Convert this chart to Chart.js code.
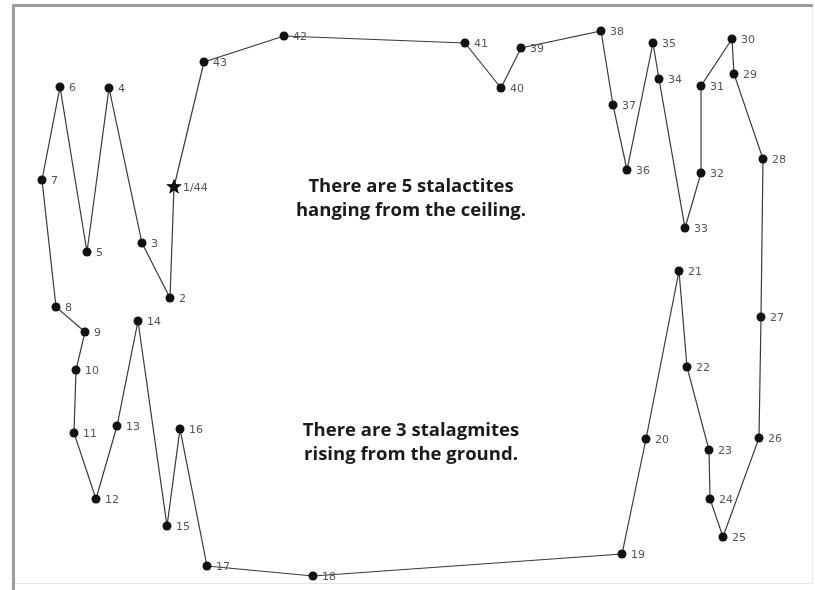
<!DOCTYPE html>
<html>
<head>
<meta charset="utf-8">
<script src="https://cdn.jsdelivr.net/npm/chart.js@4/dist/chart.umd.min.js"></script>
<style>
  html, body { margin: 0; padding: 0; background: #fff; overflow: hidden; }
  #wrap { width: 815px; height: 590px; position: relative; }
  canvas { display: block; }
</style>
</head>
<body>
<div id="wrap"><canvas id="dots" width="815" height="590"></canvas></div>
<script>
// Dot-to-dot puzzle — the cave outline, dot 1 (star) back to 44 = 1

const dotLabels = ["1/44", "2", "3", "4", "5", "6", "7", "8", "9", "10", "11", "12", "13", "14", "15", "16",
  "17", "18", "19", "20", "21", "22", "23", "24", "25", "26", "27", "28", "29", "30", "31", "32",
  "33", "34", "35", "36", "37", "38", "39", "40", "41", "42", "43", ""];
const dotX = [174, 170, 142, 109, 87, 60, 42, 56, 85, 76, 74, 96, 117, 138, 167, 180,
  207, 313, 622, 646, 679, 687, 709, 710, 723, 759, 761, 763, 734, 732, 701, 701,
  685, 659, 653, 627, 613, 601, 521, 501, 465, 284, 204, 174];
const dotY = [187, 298, 243, 88, 252, 87, 180, 307, 332, 370, 433, 499, 426, 321, 526, 429,
  566, 576, 554, 439, 271, 367, 450, 499, 537, 438, 317, 159, 74, 39, 86, 173,
  228, 79, 43, 170, 105, 31, 48, 88, 43, 36, 62, 187];

const notes = [
  ["There are 5 stalactites", "hanging from the ceiling."],
  ["There are 3 stalagmites", "rising from the ground."],
];

// ── Star marker for the start dot ─────────────────────────────────────────

function starImage(r) {
  const c = document.createElement("canvas");
  c.width = c.height = r * 2 + 2;
  const g = c.getContext("2d");
  g.fillStyle = "#111";
  g.beginPath();
  for (let i = 0; i < 10; i++) {
    const rr = i % 2 === 0 ? r : r * 0.42;
    const a = -Math.PI / 2 + (i * Math.PI) / 5;
    const px = r + 1 + rr * Math.cos(a);
    const py = r + 1 + rr * Math.sin(a);
    i === 0 ? g.moveTo(px, py) : g.lineTo(px, py);
  }
  g.closePath();
  g.fill();
  return c;
}
const star = starImage(8);

// ── Frame, dot numbers and the two notes ─────────────────────────────────

const decor = {
  id: "decor",
  beforeDraw(chart) {
    const { ctx } = chart;
    ctx.save();
    ctx.fillStyle = "#fff";
    ctx.fillRect(0, 0, chart.width, chart.height);
    // faint right and bottom edges
    ctx.strokeStyle = "#e6e6e6";
    ctx.lineWidth = 1;
    ctx.beginPath();
    ctx.moveTo(812.5, 5);
    ctx.lineTo(812.5, 584);
    ctx.moveTo(14, 583.5);
    ctx.lineTo(812, 583.5);
    ctx.stroke();
    // strong top and left edges
    ctx.strokeStyle = "#9c9c9c";
    ctx.lineWidth = 3;
    ctx.beginPath();
    ctx.moveTo(12, 5.5);
    ctx.lineTo(813, 5.5);
    ctx.moveTo(13.5, 4);
    ctx.lineTo(13.5, 590);
    ctx.stroke();
    ctx.restore();
  },
  afterDatasetsDraw(chart) {
    const { ctx } = chart;
    const sx = chart.scales.x, sy = chart.scales.y;
    ctx.save();
    ctx.fillStyle = "#555";
    ctx.font = "11px 'DejaVu Sans'";
    ctx.textBaseline = "middle";
    dotLabels.forEach((lab, i) => {
      if (!lab) return;
      ctx.fillText(lab, sx.getPixelForValue(dotX[i]) + 9, sy.getPixelForValue(dotY[i]) + 1);
    });

    ctx.fillStyle = "#1a1a1a";
    ctx.font = "bold 18.5px 'Open Sans'";
    ctx.textAlign = "center";
    const tops = [187, 431];
    notes.forEach((lines, k) => {
      lines.forEach((t, j) => ctx.fillText(t, 411, tops[k] + j * 24));
    });
    ctx.restore();
  },
};

new Chart(document.getElementById("dots"), {
  type: "scatter",
  data: {
    datasets: [
      {
        data: dotX.map((x, i) => ({ x, y: dotY[i] })),
        showLine: true,
        borderColor: "#3a3a3a",
        borderWidth: 1.2,
        backgroundColor: "#111",
        pointRadius: dotX.map((_, i) => (i === 0 || i === dotX.length - 1 ? 8 : 4.5)),
        pointStyle: dotX.map((_, i) => (i === 0 || i === dotX.length - 1 ? star : "circle")),
        pointBorderWidth: 0,
      },
    ],
  },
  options: {
    responsive: false,
    animation: false,
    layout: { padding: 0, autoPadding: false },
    scales: {
      x: { type: "linear", min: 0, max: 815, display: false },
      y: { type: "linear", min: 0, max: 590, reverse: true, display: false },
    },
    plugins: { legend: { display: false }, tooltip: { enabled: false } },
  },
  plugins: [decor],
});
</script>
</body>
</html>
